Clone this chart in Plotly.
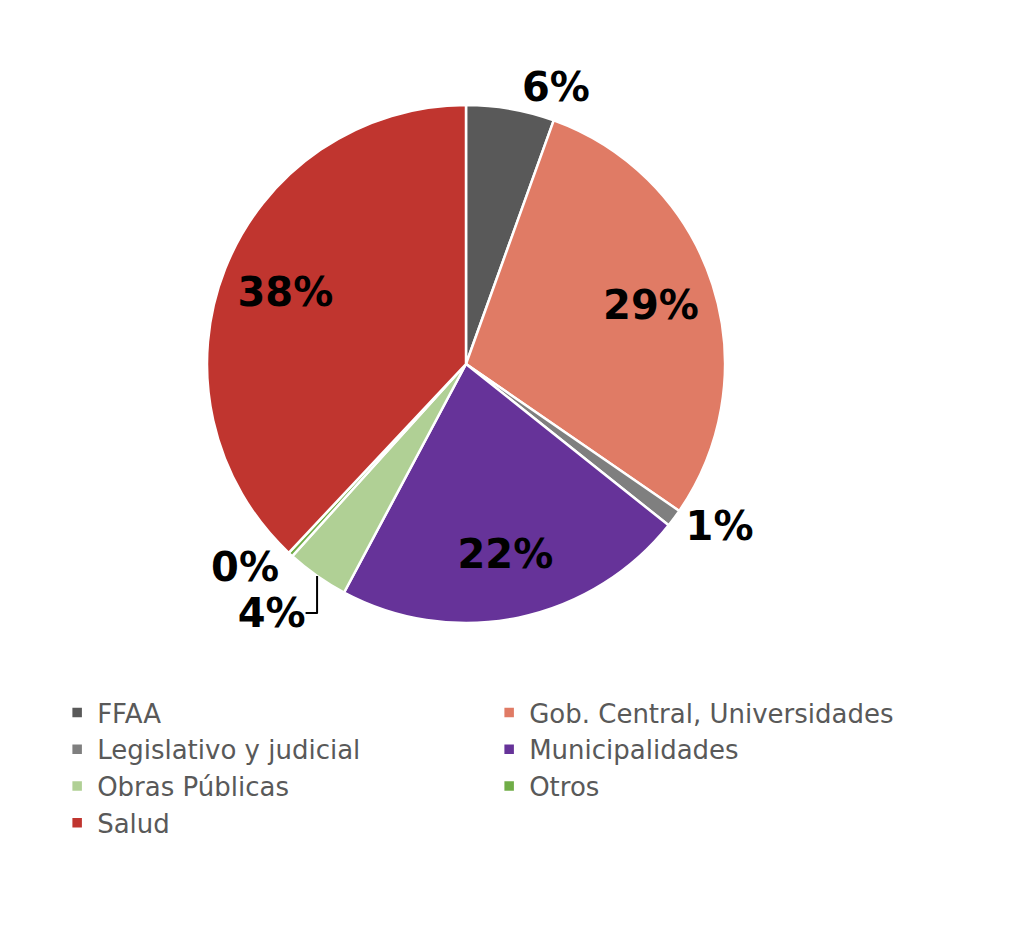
import plotly.graph_objects as go

# Distribución por sector (porcentaje)
sectores = ["FFAA", "Gob. Central, Universidades", "Legislativo y judicial",
            "Municipalidades", "Obras Públicas", "Otros", "Salud"]
valores = [5.5, 29.1, 1.1, 22.1, 3.9, 0.3, 38.0]
colores = ["#595959", "#E07B65", "#7F7F7F", "#663399", "#B0D095", "#70AD47", "#C0352F"]
posiciones = ["outside", "inside", "outside", "inside", "outside", "outside", "inside"]

fuente_pct = dict(family="DejaVu Sans", size=40, color="black", weight="bold")

W, H = 1024, 949
mt, mb = 97, 334
dom_x = [199 / W, 717 / W]

fig = go.Figure()

# slices
fig.add_trace(go.Pie(
    labels=sectores,
    values=valores,
    sort=False,
    direction="clockwise",
    rotation=0,
    marker=dict(colors=colores, line=dict(color="white", width=2.5)),
    textinfo="none",
    hoverinfo="label+percent",
    domain=dict(x=dom_x, y=[0, 1]),
))

# transparent ring just to carry the percentage labels further out (Excel style)
fig.add_trace(go.Pie(
    labels=sectores,
    values=valores,
    sort=False,
    direction="clockwise",
    rotation=0,
    hole=0.5,
    marker=dict(colors=["rgba(0,0,0,0)"] * len(sectores), line=dict(width=0)),
    texttemplate="%{percent:.0%}",
    textposition=posiciones,
    insidetextorientation="horizontal",
    textfont=fuente_pct,
    outsidetextfont=fuente_pct,
    hoverinfo="skip",
    showlegend=False,
    domain=dict(x=dom_x, y=[0, 1]),
))

plot_h = H - mt - mb
fig.update_layout(
    width=W, height=H,
    margin=dict(l=0, r=0, t=mt, b=mb),
    paper_bgcolor="white",
    uniformtext=dict(minsize=40, mode="show"),
    showlegend=True,
    legend=dict(
        orientation="h",
        x=0.048, y=(H - mb - 681) / plot_h,
        xanchor="left", yanchor="top",
        entrywidth=387, entrywidthmode="pixels",
        font=dict(family="DejaVu Sans", size=26, color="#595959"),
        tracegroupgap=0,
    ),
)

fig.write_html("out.html")
